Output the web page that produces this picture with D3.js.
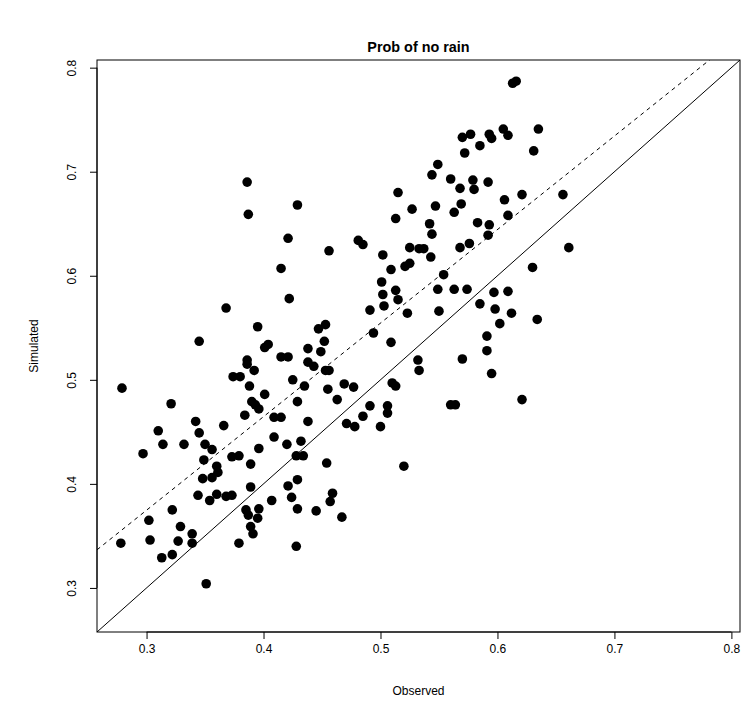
<!DOCTYPE html>
<html>
<head>
<meta charset="utf-8">
<script src="https://cdn.jsdelivr.net/npm/d3@7"></script>
<style>
  html, body { margin: 0; padding: 0; background: #fff; }
  svg { display: block; font-family: "Liberation Sans", Arial, Helvetica, sans-serif; }
</style>
</head>
<body>
<svg id="chart" width="745" height="722"></svg>
<script>
// Observed vs simulated probability of a dry day, one value per station/month.
const observed = [
  0.386, 0.387, 0.421, 0.415, 0.422, 0.368, 0.395, 0.577, 0.570, 0.585,
  0.572, 0.549, 0.544, 0.560, 0.579, 0.568, 0.580, 0.515, 0.613, 0.616,
  0.593, 0.595, 0.605, 0.609, 0.635, 0.631, 0.592, 0.621, 0.606, 0.656,
  0.429, 0.527, 0.547, 0.569, 0.563, 0.513, 0.542, 0.544, 0.583, 0.481,
  0.485, 0.456, 0.525, 0.533, 0.537, 0.568, 0.576, 0.543, 0.502, 0.521,
  0.525, 0.509, 0.554, 0.501, 0.549, 0.563, 0.574, 0.502, 0.513, 0.515,
  0.503, 0.491, 0.523, 0.550, 0.585, 0.453, 0.447, 0.494, 0.609, 0.593,
  0.592, 0.661, 0.630, 0.597, 0.609, 0.598, 0.612, 0.602, 0.634, 0.345,
  0.401, 0.404, 0.415, 0.421, 0.386, 0.386, 0.392, 0.374, 0.380, 0.425,
  0.388, 0.279, 0.401, 0.390, 0.393, 0.396, 0.321, 0.384, 0.409, 0.415,
  0.342, 0.366, 0.310, 0.345, 0.409, 0.420, 0.314, 0.332, 0.350, 0.356,
  0.396, 0.297, 0.373, 0.379, 0.349, 0.389, 0.360, 0.452, 0.509, 0.438,
  0.449, 0.591, 0.591, 0.532, 0.533, 0.570, 0.438, 0.443, 0.453, 0.456,
  0.435, 0.455, 0.469, 0.477, 0.510, 0.513, 0.429, 0.463, 0.491, 0.506,
  0.506, 0.485, 0.560, 0.564, 0.438, 0.471, 0.478, 0.500, 0.432, 0.428,
  0.434, 0.454, 0.520, 0.595, 0.621, 0.348, 0.356, 0.361, 0.389, 0.344,
  0.354, 0.360, 0.368, 0.373, 0.421, 0.424, 0.407, 0.322, 0.385, 0.396,
  0.387, 0.395, 0.302, 0.329, 0.389, 0.391, 0.339, 0.278, 0.303, 0.327,
  0.339, 0.379, 0.313, 0.322, 0.351, 0.429, 0.459, 0.457, 0.429, 0.445,
  0.467, 0.428
];
const simulated = [
  0.690, 0.659, 0.636, 0.607, 0.578, 0.569, 0.551, 0.736, 0.733, 0.725,
  0.718, 0.707, 0.697, 0.693, 0.692, 0.684, 0.683, 0.680, 0.785, 0.787,
  0.736, 0.732, 0.741, 0.735, 0.741, 0.720, 0.690, 0.678, 0.673, 0.678,
  0.668, 0.664, 0.667, 0.669, 0.661, 0.655, 0.650, 0.640, 0.651, 0.634,
  0.630, 0.624, 0.627, 0.626, 0.626, 0.627, 0.631, 0.618, 0.620, 0.609,
  0.612, 0.606, 0.601, 0.594, 0.587, 0.587, 0.587, 0.582, 0.586, 0.577,
  0.571, 0.567, 0.564, 0.566, 0.573, 0.553, 0.549, 0.545, 0.658, 0.649,
  0.639, 0.627, 0.608, 0.584, 0.585, 0.568, 0.564, 0.554, 0.558, 0.537,
  0.531, 0.534, 0.522, 0.522, 0.519, 0.515, 0.509, 0.503, 0.503, 0.500,
  0.494, 0.492, 0.486, 0.479, 0.476, 0.472, 0.477, 0.466, 0.464, 0.464,
  0.460, 0.456, 0.451, 0.449, 0.445, 0.438, 0.438, 0.438, 0.438, 0.433,
  0.434, 0.429, 0.426, 0.427, 0.423, 0.419, 0.417, 0.537, 0.536, 0.530,
  0.527, 0.542, 0.528, 0.519, 0.509, 0.520, 0.517, 0.513, 0.509, 0.509,
  0.494, 0.491, 0.496, 0.493, 0.497, 0.494, 0.479, 0.481, 0.475, 0.475,
  0.468, 0.465, 0.476, 0.476, 0.460, 0.458, 0.455, 0.455, 0.441, 0.427,
  0.427, 0.420, 0.417, 0.506, 0.481, 0.405, 0.406, 0.411, 0.397, 0.389,
  0.384, 0.390, 0.388, 0.389, 0.398, 0.387, 0.384, 0.375, 0.375, 0.376,
  0.370, 0.367, 0.365, 0.359, 0.359, 0.352, 0.352, 0.343, 0.346, 0.345,
  0.343, 0.343, 0.329, 0.332, 0.304, 0.404, 0.391, 0.383, 0.376, 0.374,
  0.368, 0.340
];
const tickValues = [0.3, 0.4, 0.5, 0.6, 0.7, 0.8];
const fitLine = { intercept: 0.105, slope: 0.899 };   // dashed fitted line
const titleText = "Prob of no rain";
const xLabel = "Observed";
const yLabel = "Simulated";

const svg = d3.select("#chart");
const box = { left: 97, right: 740, top: 60, bottom: 632 };

// Common range for both axes, padded 4% on each side
const lo = Math.min(d3.min(observed), d3.min(simulated));
const hi = Math.max(d3.max(observed), d3.max(simulated));
const pad = (hi - lo) * 0.04;
const dom = [lo - pad, hi + pad];

const x = d3.scaleLinear().domain(dom).range([box.left, box.right]);
const y = d3.scaleLinear().domain(dom).range([box.bottom, box.top]);

// Plot frame
svg.append("rect")
  .attr("x", box.left).attr("y", box.top)
  .attr("width", box.right - box.left).attr("height", box.bottom - box.top)
  .attr("fill", "none").attr("stroke", "#000").attr("stroke-width", 1);

// Axes
const xAxis = d3.axisBottom(x).tickValues(tickValues).tickSize(7).tickPadding(5)
  .tickFormat(d3.format(".1f"));
const gx = svg.append("g").attr("transform", `translate(0,${box.bottom})`).call(xAxis);
gx.select(".domain").attr("d", `M${x(tickValues[0])},0H${x(tickValues[tickValues.length - 1])}`);
gx.selectAll("text").attr("font-size", 12).attr("fill", "#000")
  .attr("font-family", "'Liberation Sans', Arial, sans-serif");

const yAxis = d3.axisLeft(y).tickValues(tickValues).tickSize(7).tickPadding(5)
  .tickFormat(d3.format(".1f"));
const gy = svg.append("g").attr("transform", `translate(${box.left},0)`).call(yAxis);
gy.select(".domain").attr("d", `M0,${y(tickValues[0])}V${y(tickValues[tickValues.length - 1])}`);
gy.selectAll(".tick text")
  .attr("font-size", 12).attr("fill", "#000")
  .attr("font-family", "'Liberation Sans', Arial, sans-serif")
  .attr("x", null).attr("dy", null)
  .attr("text-anchor", "middle")
  .attr("transform", "translate(-21,0) rotate(-90)");

svg.selectAll(".domain, .tick line").attr("stroke", "#000");

// Clip lines to the plot frame
svg.append("clipPath").attr("id", "plotclip")
  .append("rect")
  .attr("x", box.left).attr("y", box.top)
  .attr("width", box.right - box.left).attr("height", box.bottom - box.top);

const lines = svg.append("g").attr("clip-path", "url(#plotclip)");

// 1:1 line
lines.append("line")
  .attr("x1", x(dom[0])).attr("y1", y(dom[0]))
  .attr("x2", x(dom[1])).attr("y2", y(dom[1]))
  .attr("stroke", "#000").attr("stroke-width", 1);

// Fitted line
lines.append("line")
  .attr("x1", x(dom[0])).attr("y1", y(fitLine.intercept + fitLine.slope * dom[0]))
  .attr("x2", x(dom[1])).attr("y2", y(fitLine.intercept + fitLine.slope * dom[1]))
  .attr("stroke", "#000").attr("stroke-width", 1)
  .attr("stroke-dasharray", "4,4");

// Points
const pts = observed.map((o, i) => ({ o, s: simulated[i] }));
svg.append("g").selectAll("circle").data(pts).join("circle")
  .attr("cx", d => x(d.o)).attr("cy", d => y(d.s))
  .attr("r", 4.8).attr("fill", "#000");

// Titles
svg.append("text")
  .attr("x", (box.left + box.right) / 2).attr("y", 52)
  .attr("text-anchor", "middle").attr("font-size", 14.4).attr("font-weight", "bold")
  .text(titleText);

svg.append("text")
  .attr("x", (box.left + box.right) / 2).attr("y", 695)
  .attr("text-anchor", "middle").attr("font-size", 12)
  .text(xLabel);

svg.append("text")
  .attr("transform", `translate(38,${(box.top + box.bottom) / 2}) rotate(-90)`)
  .attr("text-anchor", "middle").attr("font-size", 12)
  .text(yLabel);
</script>
</body>
</html>
